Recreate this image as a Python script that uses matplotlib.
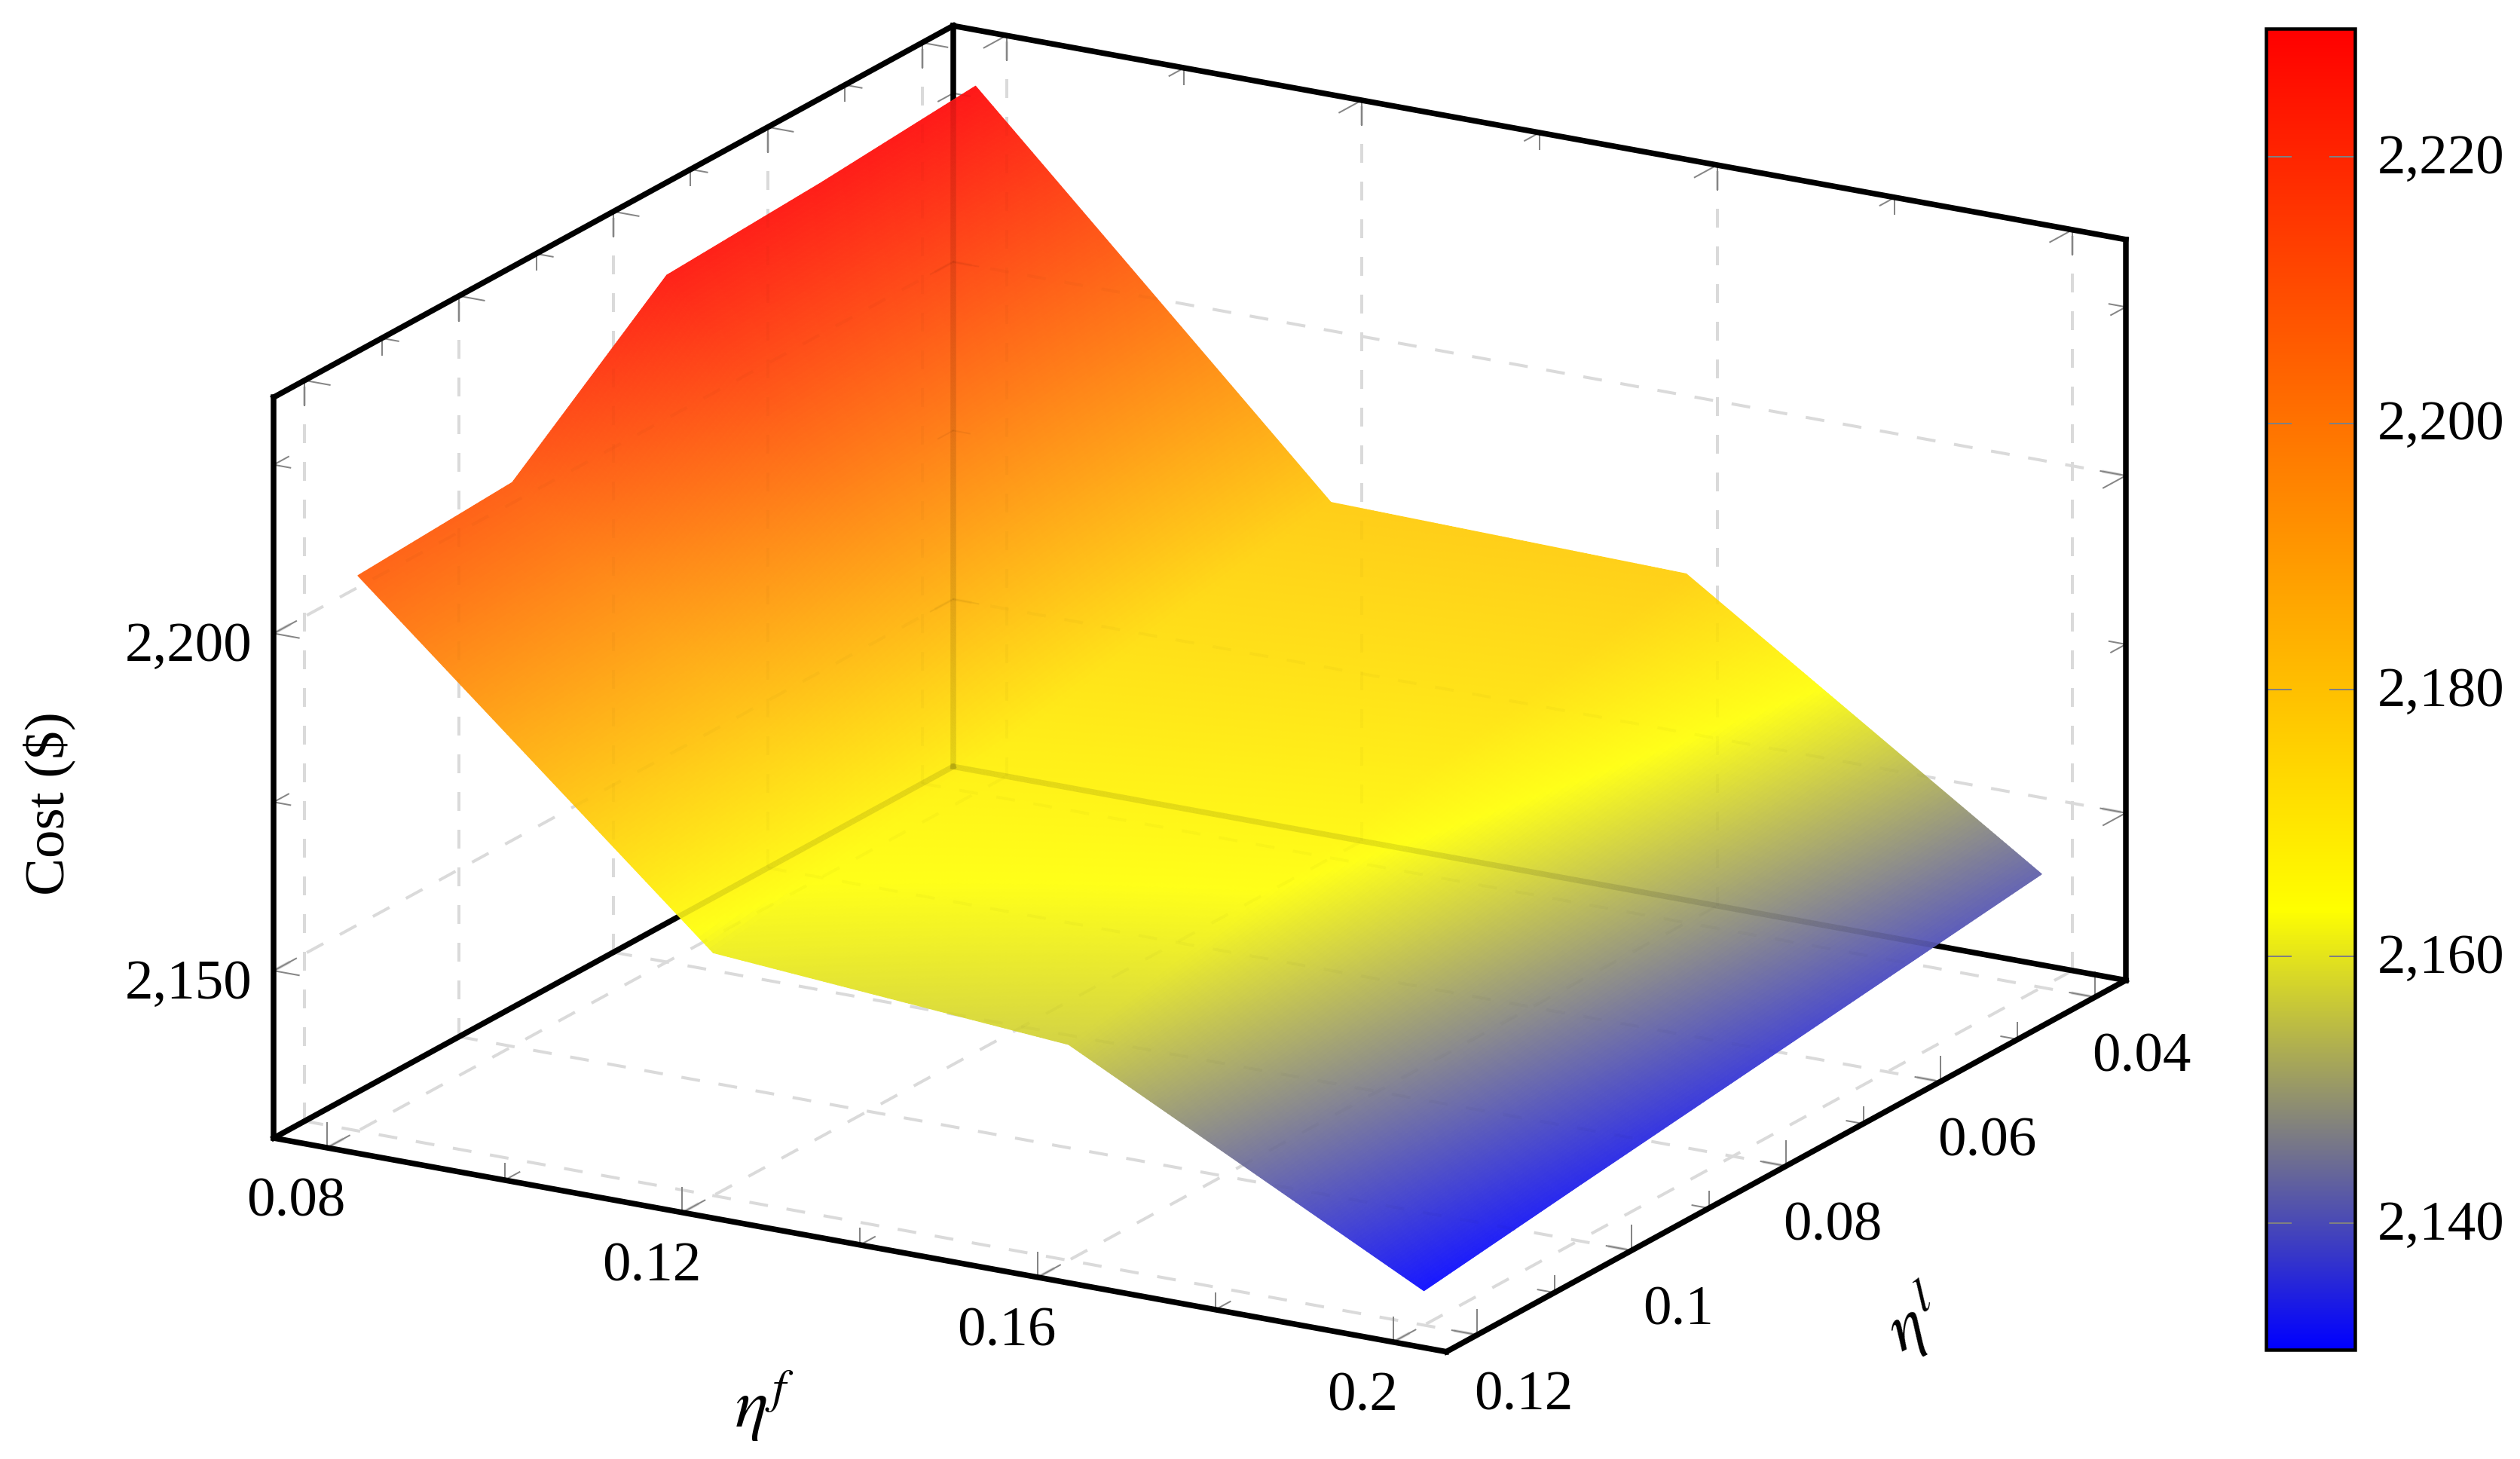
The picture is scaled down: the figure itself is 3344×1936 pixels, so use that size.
"""Cost surface over eta^f and eta^l, pgfplots look (ortho view, box axes, blue-yellow-red)"""

import numpy as np
import matplotlib
matplotlib.use("Agg")
import matplotlib.pyplot as plt
from matplotlib.colors import LinearSegmentedColormap, Normalize
from matplotlib.cm import ScalarMappable
from matplotlib.path import Path
from matplotlib.transforms import Affine2D
from mpl_toolkits.mplot3d import proj3d

plt.rcParams['font.family'] = ['Liberation Serif', 'DejaVu Serif']
plt.rcParams['mathtext.fontset'] = 'stix'

# data
eta_f = [0.08, 0.12, 0.16, 0.2]
eta_l = [0.04, 0.06, 0.08, 0.1, 0.12]
# rows follow eta_f, columns follow eta_l
cost = [
    [2230.0, 2228.2, 2227.0, 2208.8, 2207.5],
    [2177.9, 2173.5, 2169.0, 2165.0, 2161.2],
    [2176.9, 2172.0, 2167.0, 2162.0, 2157.2],
    [2142.0, 2139.1, 2136.2, 2133.3, 2130.3],
]

x_major = [0.08, 0.12, 0.16, 0.2]
x_minor = [0.1, 0.14, 0.18]
y_major = [0.04, 0.06, 0.08, 0.1, 0.12]
y_minor = [0.05, 0.07, 0.09, 0.11]
z_major = [2150, 2200]
z_minor = [2175, 2225]
cbar_ticks = [2140, 2160, 2180, 2200, 2220]

xlim = (0.074, 0.206)
ylim = (0.036, 0.124)
zlim = (2125.2, 2235.0)
cmin, cmax = 2130.5, 2229.6

W, H = 3344, 1936
DPI = 200
FS = 27
BOX_LW = 7.5 * 72 / DPI
GRID_LW = 4 * 72 / DPI
TICK_LW = 2 * 72 / DPI
SURF_ALPHA = 0.9

cmap = LinearSegmentedColormap.from_list(
    "byr", [(0, (0, 0, 1)), (1 / 3, (1, 1, 0)), (1, (1, 0, 0))], N=1024)
norm = Normalize(cmin, cmax)

fig = plt.figure(figsize=(W / DPI, H / DPI), dpi=DPI)

side = 2668
cx, cy = 1592 - 36, 912 + 38
ax = fig.add_axes([(cx - side / 2) / W, 1 - (cy + side / 2) / H, side / W, side / H],
                  projection='3d', proj_type='ortho', computed_zorder=False)
ax.view_init(elev=18.4, azim=-60)
ax.set_box_aspect((843, 846, 486))
ax.set_xlim(*xlim)
ax.set_ylim(ylim[1], ylim[0])
ax.set_zlim(*zlim)
ax.set_axis_off()

x0, x1 = xlim
yf, yb = ylim[1], ylim[0]  # front and back of the box
z0, z1 = zlim

# kept so they can be laid over the surface again, faintly
drawn = []


def seg(a, b, shade, **kw):
    ax.plot([a[0], b[0]], [a[1], b[1]], [a[2], b[2]], clip_on=False, **kw)
    drawn.append((a, b, shade, kw))


# dashed grid on the three back planes
gs = dict(color='#dadada', lw=GRID_LW, dashes=(6.25, 6.25), zorder=1)
for x in x_major:
    seg((x, yb, z0), (x, yb, z1), 0.02, **gs)
    seg((x, yf, z0), (x, yb, z0), 0.02, **gs)
for y in y_major:
    seg((x0, y, z0), (x0, y, z1), 0.02, **gs)
    seg((x0, y, z0), (x1, y, z0), 0.02, **gs)
for z in z_major:
    seg((x0, yf, z), (x0, yb, z), 0.02, **gs)
    seg((x0, yb, z), (x1, yb, z), 0.02, **gs)

# ticks: fixed length on screen, along the two inward directions
TX = 0.132 * 34 / 1582
TY = 0.088 * 34 / 1028
TZ = 109.8 * 33 / 983


def ticks_for(values, scale, edges):
    ts = dict(color='#858585', lw=TICK_LW, zorder=2)
    for v in values:
        for base, dirs in edges(v):
            for d in dirs:
                seg(base, (base[0] + d[0] * TX * scale, base[1] + d[1] * TY * scale,
                           base[2] + d[2] * TZ * scale), 0.05, **ts)


def x_edges(v):
    return [((v, yf, z0), [(0, -1, 0), (0, 0, 1)]),
            ((v, yb, z1), [(0, 1, 0), (0, 0, -1)])]


def y_edges(v):
    return [((x1, v, z0), [(-1, 0, 0), (0, 0, 1)]),
            ((x0, v, z1), [(1, 0, 0), (0, 0, -1)])]


def z_edges(v):
    return [((x0, yf, v), [(1, 0, 0), (0, -1, 0)]),
            ((x1, yb, v), [(-1, 0, 0), (0, 1, 0)]),
            ((x0, yb, v), [(1, 0, 0), (0, 1, 0)])]


for vals, edge in ((x_major, x_edges), (y_major, y_edges), (z_major, z_edges)):
    ticks_for(vals, 1.0, edge)
for vals, edge in ((x_minor, x_edges), (y_minor, y_edges), (z_minor, z_edges)):
    ticks_for(vals, 0.66, edge)

# visible box edges
bs = dict(color='k', lw=BOX_LW, solid_capstyle='projecting', zorder=3)
seg((x0, yf, z0), (x1, yf, z0), 0.1, **bs)
seg((x1, yf, z0), (x1, yb, z0), 0.1, **bs)
seg((x0, yf, z0), (x0, yf, z1), 0.1, **bs)
seg((x0, yf, z1), (x0, yb, z1), 0.1, **bs)
seg((x0, yb, z1), (x1, yb, z1), 0.1, **bs)
seg((x1, yb, z1), (x1, yb, z0), 0.1, **bs)
seg((x0, yb, z0), (x0, yb, z1), 0.1, **bs)
seg((x0, yb, z0), (x0, yf, z0), 0.1, **bs)
seg((x0, yb, z0), (x1, yb, z0), 0.1, **bs)

# surface: refine each cell only so the colour runs smooth, like shader=interp
n = 100
xi = np.arange(len(eta_f))
yi = np.arange(len(eta_l))
xf = np.linspace(0, xi[-1], xi[-1] * n + 1)
yfine = np.linspace(0, yi[-1], yi[-1] * n + 1)
Z = np.array(cost)
Zy = np.array([np.interp(yfine, yi, row) for row in Z])
Zf = np.array([np.interp(xf, xi, col) for col in Zy.T]).T
Xf, Yf = np.meshgrid(np.interp(xf, xi, eta_f), np.interp(yfine, yi, eta_l), indexing='ij')
mid = 0.25 * (Zf[:-1, :-1] + Zf[1:, :-1] + Zf[:-1, 1:] + Zf[1:, 1:])
# opaque faces mixed with white: translucent small quads leave seams
fc = cmap(norm(mid))
fc[..., :3] = SURF_ALPHA * fc[..., :3] + (1 - SURF_ALPHA)
surf = ax.plot_surface(Xf, Yf, Zf, facecolors=fc, rstride=1, cstride=1, shade=False,
                       linewidth=0.4, antialiased=True, zorder=5)
surf.set_clip_on(False)

# lines behind the surface still show through it a little
M = ax.get_proj()
ox = [x for x in eta_f] + [eta_f[-1]] * 3 + eta_f[::-1] + [eta_f[0]] * 3
oy = [eta_l[0]] * 4 + eta_l[1:4] + [eta_l[-1]] * 4 + eta_l[3:0:-1]
oz = list(Z[:, 0]) + list(Z[-1, 1:4]) + list(Z[::-1, -1]) + list(Z[0, 3:0:-1])
oX, oY, _ = proj3d.proj_transform(np.array(ox), np.array(oy), np.array(oz), M)
outline = Path(np.column_stack([list(oX) + [oX[0]], list(oY) + [oY[0]]]), closed=True)
for a, b, shade, kw in drawn:
    over = dict(kw)
    over.update(color='k', alpha=shade, zorder=6)
    ln, = ax.plot([a[0], b[0]], [a[1], b[1]], [a[2], b[2]], **over)
    ln.set_clip_path(outline, ax.transData)


def label_at(p, dx, dy, text, **kw):
    # text placed from a data point plus an offset in pixels (dy down)
    X, Y, _ = proj3d.proj_transform(p[0], p[1], p[2], M)
    ax.annotate(text, (X, Y), xytext=(dx, -dy), textcoords='offset pixels',
                ha='center', va='center', fontsize=FS, annotation_clip=False, **kw)


for v, s in zip(x_major, ["0.08", "0.12", "0.16", "0.2"]):
    label_at((v, yf, z0), -41, 73, s)
for v, s in zip(y_major, ["0.04", "0.06", "0.08", "0.1", "0.12"]):
    label_at((x1, v, z0), 62, 81, s)
for v in z_major:
    label_at((x0, yf, v), -113, 19, f"{v:,}")

fig.text(65 / W, 1 - 1066 / H, "Cost ($)", rotation=90, ha='center', va='center', fontsize=FS)
fig.text(1014 / W, 1 - 1865 / H, r"$\eta^{f}$", ha='center', va='center', fontsize=33)
fig.text(2540 / W, 1 - 1753 / H, r"$\eta^{l}$", ha='center', va='center', fontsize=33, rotation=28)

# colorbar
cax = fig.add_axes([3007 / W, 1 - 1791 / H, 118 / W, 1753 / H])
cb = fig.colorbar(ScalarMappable(norm=norm, cmap=cmap), cax=cax, ticks=cbar_ticks)
cb.outline.set_linewidth(4.5 * 72 / DPI)
cb.outline.set_edgecolor('k')
cb.ax.minorticks_off()
cax.set_yticklabels([f"{t:,}" for t in cbar_ticks], fontsize=FS)
cax.tick_params(axis='y', direction='in', left=True, right=True, length=34 * 72 / DPI,
                width=2 * 72 / DPI, color='#808080', pad=30 * 72 / DPI)
for lab in cax.get_yticklabels():
    lab.set_transform(lab.get_transform() + Affine2D().translate(0, 4))

fig.savefig("out.png", dpi=DPI)
